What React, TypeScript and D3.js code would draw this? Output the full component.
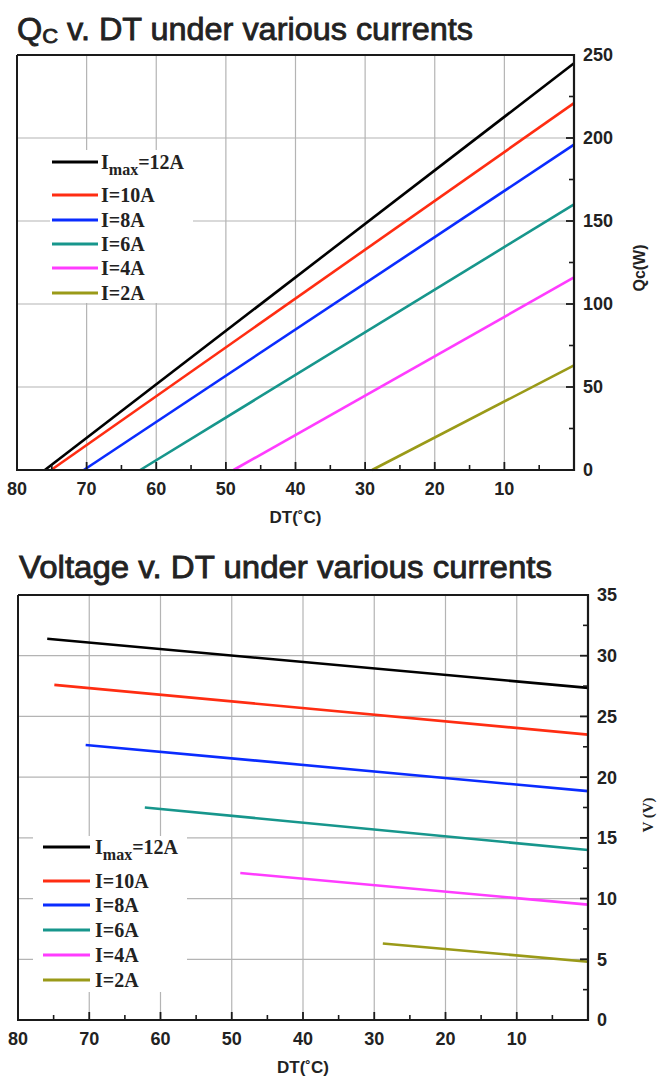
import React from "react";
import * as d3 from "d3";

// ---------- data ----------
const dtTickValues = [80, 70, 60, 50, 40, 30, 20, 10];
const dtMinorTicks = [75, 65, 55, 45, 35, 25, 15, 5];
const dtGridValues = [70, 60, 50, 40, 30, 20, 10];

const seriesLabels = ["I_max=12A", "I=10A", "I=8A", "I=6A", "I=4A", "I=2A"];
const seriesColors = ["#000000", "#ff2d12", "#0a2cff", "#17968c", "#ff3cff", "#9a9a18"];

// Qc (W) vs DT (°C): [DT, Qc]
const qcImax12 = [[76.0, 0], [0, 245]];
const qcI10 = [[75.1, 0], [0, 221]];
const qcI8 = [[70.4, 0], [0, 196]];
const qcI6 = [[62.3, 0], [0, 160]];
const qcI4 = [[48.9, 0], [0, 116]];
const qcI2 = [[29.0, 0], [0, 63]];

const qcTicks = [0, 50, 100, 150, 200, 250];
const qcMinorTicks = [25, 75, 125, 175, 225];

// Voltage (V) vs DT (°C): [DT, V]
const vImax12 = [[75.9, 31.4], [0, 27.35]];
const vI10 = [[74.9, 27.6], [0, 23.5]];
const vI8 = [[70.5, 22.65], [0, 18.85]];
const vI6 = [[62.2, 17.5], [0, 14.0]];
const vI4 = [[48.8, 12.1], [0, 9.5]];
const vI2 = [[28.8, 6.3], [0, 4.8]];

const vTicks = [0, 5, 10, 15, 20, 25, 30, 35];
const vMinorTicks = [2.5, 7.5, 12.5, 17.5, 22.5, 27.5, 32.5];

type Pt = number[];

interface ChartProps {
  left: number;
  right: number;
  top: number;
  bottom: number;
  yMax: number;
  yTicks: number[];
  yMinor: number[];
  series: Pt[][];
  yLabel: string;
  yLabelX: number;
  yLabelY: number;
  yLabelFont: string;
  yLabelSize: number;
  legend: { x0: number; y0: number; x1: number; y1: number; lineX0: number; lineX1: number; textX: number; rows: number[] };
}

const SANS = "'Liberation Sans', Arial, sans-serif";
const SERIF = "'Liberation Serif', 'Times New Roman', serif";

function LegendLabel({ label, x, y, color }: { label: string; x: number; y: number; color: string }) {
  if (label.includes("_")) {
    const [main, rest] = label.split("_");
    const sub = rest.split("=")[0];
    const tail = "=" + rest.split("=")[1];
    return (
      <text x={x} y={y} fontFamily={SERIF} fontWeight="bold" fontSize={20} fill={color}>
        {main}
        <tspan fontSize={16} dy={6}>{sub}</tspan>
        <tspan dy={-6}>{tail}</tspan>
      </text>
    );
  }
  return (
    <text x={x} y={y} fontFamily={SERIF} fontWeight="bold" fontSize={20} fill={color}>
      {label}
    </text>
  );
}

function Chart(p: ChartProps) {
  const x = d3.scaleLinear().domain([80, 0]).range([p.left, p.right]);
  const y = d3.scaleLinear().domain([0, p.yMax]).range([p.bottom, p.top]);
  const line = d3
    .line<Pt>()
    .x((d) => x(d[0]))
    .y((d) => y(d[1]));
  const gridColor = "#b4b4b4";
  const axisColor = "#1a1a1a";
  const textColor = "#222";
  const yGrid = p.yTicks.filter((t) => t !== 0 && t !== p.yMax);
  const lg = p.legend;

  return (
    <g>
      {dtGridValues.map((v) => (
        <line key={"gx" + v} x1={x(v)} x2={x(v)} y1={p.top} y2={p.bottom} stroke={gridColor} strokeWidth={1.2} />
      ))}
      {yGrid.map((v) => (
        <line key={"gy" + v} x1={p.left} x2={p.right} y1={y(v)} y2={y(v)} stroke={gridColor} strokeWidth={1.2} />
      ))}
      <rect x={lg.x0} y={lg.y0} width={lg.x1 - lg.x0} height={lg.y1 - lg.y0} fill="#fff" />
      {p.series.map((s, i) => (
        <path key={"s" + i} d={line(s) || ""} fill="none" stroke={seriesColors[i]} strokeWidth={2.6} />
      ))}
      <line x1={p.left} x2={p.right} y1={p.top} y2={p.top} stroke={axisColor} strokeWidth={2} />
      <line x1={p.left} x2={p.left} y1={p.top} y2={p.bottom} stroke={axisColor} strokeWidth={2} />
      <line x1={p.left - 1} x2={p.right + 1} y1={p.bottom} y2={p.bottom} stroke={axisColor} strokeWidth={2.2} />
      <line x1={p.right} x2={p.right} y1={p.top - 1} y2={p.bottom + 1} stroke={axisColor} strokeWidth={2.2} />
      {dtTickValues.map((v) => (
        <line key={"tx" + v} x1={x(v)} x2={x(v)} y1={p.bottom} y2={p.bottom - 8} stroke={axisColor} strokeWidth={1.8} />
      ))}
      {dtMinorTicks.map((v) => (
        <line key={"mx" + v} x1={x(v)} x2={x(v)} y1={p.bottom} y2={p.bottom - 5} stroke={axisColor} strokeWidth={1.6} />
      ))}
      {p.yTicks.map((v) => (
        <line key={"ty" + v} x1={p.right} x2={p.right - 8} y1={y(v)} y2={y(v)} stroke={axisColor} strokeWidth={1.8} />
      ))}
      {p.yMinor.map((v) => (
        <line key={"my" + v} x1={p.right} x2={p.right - 5} y1={y(v)} y2={y(v)} stroke={axisColor} strokeWidth={1.6} />
      ))}
      {dtTickValues.map((v) => (
        <text
          key={"lx" + v}
          x={x(v)}
          y={p.bottom + 25}
          textAnchor="middle"
          fontFamily={SANS}
          fontWeight="bold"
          fontSize={18}
          fill={textColor}
        >
          {v}
        </text>
      ))}
      {p.yTicks.map((v) => (
        <text
          key={"ly" + v}
          x={p.right + 9}
          y={y(v)}
          dy="0.36em"
          fontFamily={SANS}
          fontWeight="bold"
          fontSize={18}
          fill={textColor}
        >
          {v}
        </text>
      ))}
      <text
        x={(p.left + p.right) / 2}
        y={p.bottom + 53}
        textAnchor="middle"
        fontFamily={SANS}
        fontWeight="bold"
        fontSize={17}
        fill={textColor}
      >
        DT(˚C)
      </text>
      <text
        transform={`translate(${p.yLabelX},${p.yLabelY}) rotate(-90)`}
        textAnchor="middle"
        fontFamily={p.yLabelFont}
        fontWeight="bold"
        fontSize={p.yLabelSize}
        fill={textColor}
      >
        {p.yLabel}
      </text>
      {seriesLabels.map((lab, i) => (
        <g key={"lg" + i}>
          <line x1={lg.lineX0} x2={lg.lineX1} y1={lg.rows[i]} y2={lg.rows[i]} stroke={seriesColors[i]} strokeWidth={3} />
          <LegendLabel label={lab} x={lg.textX} y={lg.rows[i] + 7} color={textColor} />
        </g>
      ))}
    </g>
  );
}

export default function App() {
  return (
    <svg
      width={657}
      height={1077}
      viewBox="0 0 657 1077"
      style={{ position: "absolute", left: 0, top: 0, background: "#fff" }}
    >
      <rect x={0} y={0} width={657} height={1077} fill="#fff" />
      <text
        x={17}
        y={40}
        fontFamily={SANS}
        fontSize={31}
        fill="#222"
        stroke="#222"
        strokeWidth={0.8}
        textLength={456}
        lengthAdjust="spacingAndGlyphs"
      >
        Q<tspan fontSize={21} dy={3}>C</tspan>
        <tspan dy={-3}> v. DT under various currents</tspan>
      </text>
      <Chart
        left={17}
        right={574}
        top={55}
        bottom={470}
        yMax={250}
        yTicks={qcTicks}
        yMinor={qcMinorTicks}
        series={[qcImax12, qcI10, qcI8, qcI6, qcI4, qcI2]}
        yLabel="Qc(W)"
        yLabelX={645}
        yLabelY={268}
        yLabelFont={SANS}
        yLabelSize={16}
        legend={{ x0: 50, y0: 150, x1: 193, y1: 303, lineX0: 52, lineX1: 98, textX: 101, rows: [162, 195, 220, 244, 268, 293] }}
      />
      <text
        x={19}
        y={578}
        fontFamily={SANS}
        fontSize={31}
        fill="#222"
        stroke="#222"
        strokeWidth={0.8}
        textLength={533}
        lengthAdjust="spacingAndGlyphs"
      >
        Voltage v. DT under various currents
      </text>
      <Chart
        left={18}
        right={588}
        top={595}
        bottom={1020}
        yMax={35}
        yTicks={vTicks}
        yMinor={vMinorTicks}
        series={[vImax12, vI10, vI8, vI6, vI4, vI2]}
        yLabel="V (V)"
        yLabelX={653}
        yLabelY={815}
        yLabelFont={SERIF}
        yLabelSize={15}
        legend={{ x0: 33, y0: 836, x1: 187, y1: 992, lineX0: 43, lineX1: 90, textX: 95, rows: [847, 881, 905, 930, 955, 980] }}
      />
    </svg>
  );
}
